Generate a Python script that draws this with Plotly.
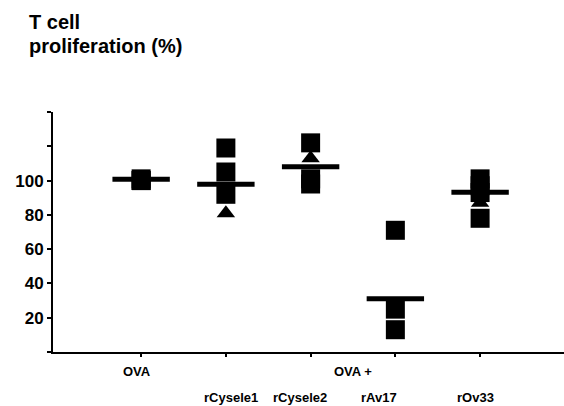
import plotly.graph_objects as go

# ---- data ----
groups = ["OVA", "rCysele1", "rCysele2", "rAv17", "rOv33"]
group_pos = [1, 2, 3, 4, 5]
square_vals = [
    [100, 101, 100],
    [119, 105, 92],
    [122, 101, 98],
    [71, 25, 13],
    [101, 97, 93, 78],
]
triangle_vals = [
    [],
    [81],
    [113],
    [],
    [87],
]
mean_vals = [100.8, 97.8, 108, 31, 93.2]

y_tickvals = [0, 20, 40, 60, 80, 100, 120, 140]
y_ticktext = ["", "20", "40", "60", "80", "100", "", ""]

# label texts and their x positions (axis units)
row1_labels = ["OVA", "OVA +"]
row1_x = [0.95, 3.5]
row2_labels = ["rCysele1", "rCysele2", "rAv17", "rOv33"]
row2_x = [2.06, 2.87, 3.81, 4.94]

FONT = "Liberation Sans, Arial, sans-serif"

fig = go.Figure()

sx, sy, tx, ty = [], [], [], []
for p, sv, tv in zip(group_pos, square_vals, triangle_vals):
    sx += [p] * len(sv)
    sy += sv
    tx += [p] * len(tv)
    ty += tv

fig.add_trace(go.Scatter(
    x=tx, y=ty, mode="markers",
    marker=dict(symbol="triangle-up", size=16, color="black", line=dict(width=0)),
    hoverinfo="skip", showlegend=False))
fig.add_trace(go.Scatter(
    x=sx, y=sy, mode="markers",
    marker=dict(symbol="square", size=19, color="black", line=dict(width=0)),
    hoverinfo="skip", showlegend=False))
fig.add_trace(go.Scatter(
    x=group_pos, y=mean_vals, mode="markers",
    marker=dict(symbol="line-ew", size=41, color="black",
                line=dict(width=5, color="black")),
    hoverinfo="skip", showlegend=False))

annotations = []
for t, x in zip(row1_labels, row1_x):
    annotations.append(dict(text=f"<b>{t}</b>", x=x, xref="x", y=-0.083, yref="paper",
                            showarrow=False, xanchor="center", yanchor="middle",
                            font=dict(family=FONT, size=13, color="black")))
for t, x in zip(row2_labels, row2_x):
    annotations.append(dict(text=f"<b>{t}</b>", x=x, xref="x", y=-0.19, yref="paper",
                            showarrow=False, xanchor="center", yanchor="middle",
                            font=dict(family=FONT, size=13, color="black")))

fig.update_layout(
    width=564, height=406,
    margin=dict(l=53, r=0, t=112, b=54),
    paper_bgcolor="white", plot_bgcolor="white",
    font=dict(family=FONT, color="black"),
    annotations=annotations + [
        dict(text="<b>T cell</b>", x=(27 - 53) / 511, xref="paper",
             y=1 + (112 - 22) / 240, yref="paper", showarrow=False,
             xanchor="left", yanchor="middle",
             font=dict(family=FONT, size=20, color="black")),
        dict(text="<b>proliferation (%)</b>", x=(27 - 53) / 511, xref="paper",
             y=1 + (112 - 46) / 240, yref="paper", showarrow=False,
             xanchor="left", yanchor="middle",
             font=dict(family=FONT, size=20, color="black")),
    ],
    xaxis=dict(range=[-0.04, 5.99], showgrid=False, zeroline=False,
               showline=True, linecolor="black", linewidth=2,
               tickvals=group_pos, ticktext=[""] * len(group_pos),
               ticks="outside", ticklen=3, tickwidth=1.5, tickcolor="black"),
    yaxis=dict(range=[0, 140], showgrid=False, zeroline=False,
               showline=True, linecolor="black", linewidth=2,
               tickvals=y_tickvals, ticktext=y_ticktext,
               ticks="outside", ticklen=4, tickwidth=1.5, tickcolor="black",
               tickfont=dict(family=FONT, size=17, color="black", weight="bold")),
)

fig.write_html("out.html", config={"displayModeBar": False},
               post_script="document.body.style.margin='0';document.body.style.overflow='hidden';")
